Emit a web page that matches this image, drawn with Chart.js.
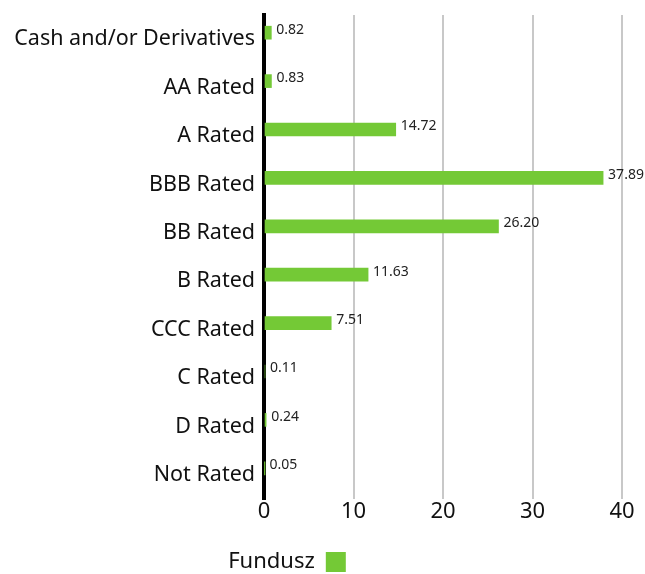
<!DOCTYPE html>
<html>
<head>
<meta charset="utf-8">
<script src="https://cdn.jsdelivr.net/npm/chart.js@4/dist/chart.umd.min.js"></script>
<style>
  html, body { margin: 0; padding: 0; background: #fff; }
  #wrap { width: 645px; height: 574px; position: relative; }
</style>
</head>
<body>
<div id="wrap"><canvas id="chart"></canvas></div>
<script>
// rating buckets and fund weights (%)
const categories = ['Cash and/or Derivatives', 'AA Rated', 'A Rated', 'BBB Rated', 'BB Rated',
  'B Rated', 'CCC Rated', 'C Rated', 'D Rated', 'Not Rated'];
const fundValues = [0.82, 0.83, 14.72, 37.89, 26.20, 11.63, 7.51, 0.11, 0.24, 0.05];
const valueLabels = ['0.82', '0.83', '14.72', '37.89', '26.20', '11.63', '7.51', '0.11', '0.24', '0.05'];
const xTicks = [0, 10, 20, 30, 40];
const seriesName = 'Fundusz';

const FONT = "'Noto Sans', sans-serif";
const GREEN = '#74c936';

// draws the value next to every bar end
const barValues = {
    id: 'barValues',
    afterDatasetsDraw(chart) {
        const ctx = chart.ctx;
        const meta = chart.getDatasetMeta(0);
        ctx.save();
        ctx.font = '14px ' + FONT;
        ctx.fillStyle = '#222';
        ctx.textBaseline = 'middle';
        ctx.textAlign = 'left';
        meta.data.forEach((bar, i) => {
            ctx.fillText(valueLabels[i], bar.x + 5, bar.y - 3);
        });
        ctx.restore();
    }
};

// the legend sits a bit left of centre and close to the bottom edge in the original
const legendShift = {
    id: 'legendShift',
    afterLayout(chart) {
        const lg = chart.legend;
        lg.left -= 24;
        lg.right -= 24;
        lg.top += 9;
        lg.bottom += 9;
    }
};

const ctx = document.getElementById('chart').getContext('2d');
new Chart(ctx, {
    type: 'bar',
    data: {
        labels: categories,
        datasets: [
            { label: seriesName, data: fundValues, backgroundColor: GREEN, barThickness: 13 },
            { label: '', data: [], backgroundColor: 'rgba(0,0,0,0)', barThickness: 13 }
        ]
    },
    options: {
        indexAxis: 'y',
        responsive: true,
        maintainAspectRatio: false,
        animation: false,
        layout: { padding: { top: 15, right: 23, left: 0, bottom: 0 } },
        scales: {
            x: {
                min: xTicks[0],
                max: xTicks[xTicks.length - 1],
                afterBuildTicks: (scale) => { scale.ticks = xTicks.map(v => ({ value: v })); },
                afterFit: (scale) => { scale.height = 42; },
                border: { display: false },
                grid: {
                    color: (c) => c.tick && c.tick.value === 0 ? 'rgba(0,0,0,0)' : '#c8c8c8',
                    lineWidth: 2,
                    drawTicks: false
                },
                ticks: { color: '#111', font: { family: FONT, size: 22 }, padding: 0 }
            },
            y: {
                afterFit: (scale) => {
                    scale.width = 264;
                    scale.paddingTop = 0;
                    scale.paddingBottom = 0;
                },
                border: { display: true, color: '#000', width: 4 },
                grid: { display: false, drawTicks: false },
                ticks: { color: '#111', font: { family: FONT, size: 21.5 }, padding: 9 }
            }
        },
        plugins: {
            legend: {
                position: 'bottom',
                rtl: true,
                labels: {
                    filter: (item) => item.datasetIndex === 0,
                    boxWidth: 20,
                    boxHeight: 20,
                    color: '#111',
                    font: { family: FONT, size: 22 },
                    padding: 1
                }
            },
            tooltip: { enabled: false }
        }
    },
    plugins: [barValues, legendShift]
});
</script>
</body>
</html>
